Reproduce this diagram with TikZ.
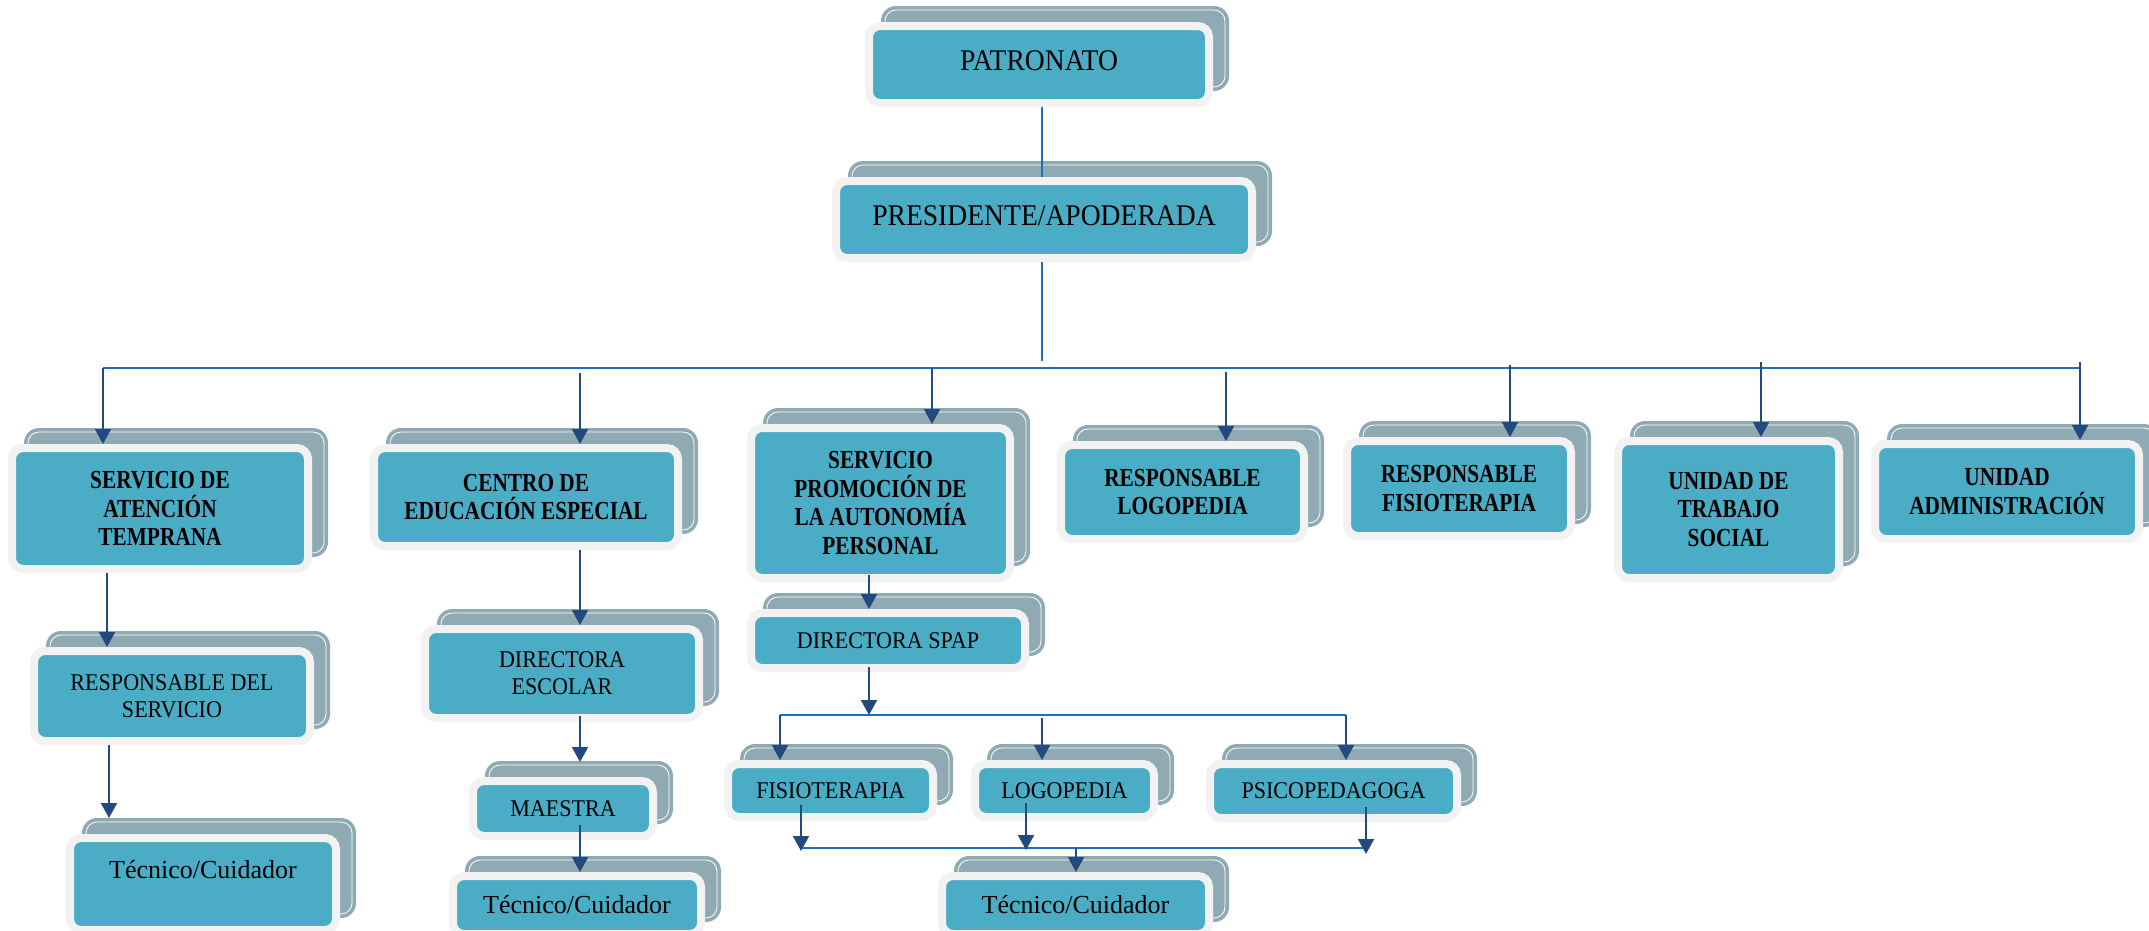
\documentclass[tikz,border=0pt]{standalone}
\usepackage{fontspec}
\setmainfont{Liberation Serif}
\newfontfamily\fregular[FakeStretch=0.92]{Liberation Serif}
\newfontfamily\fbolder[FakeStretch=0.82]{Liberation Serif}
\newfontfamily\ftec{Liberation Serif}
\usetikzlibrary{arrows.meta,calc,backgrounds}
\definecolor{boxblue}{HTML}{4BACC6}
\definecolor{boxrim}{HTML}{F2F2F2}
\definecolor{shadowc}{HTML}{8FAAB3}
\definecolor{busc}{HTML}{1A6FC0}
\definecolor{arrc}{HTML}{234A7E}
\tikzset{
  orgnode/.style={rounded corners=11pt, fill=boxblue, draw=boxrim, line width=8pt, inner sep=0pt, align=center, text=black},
  reg/.style={font=\fregular\fontsize{24}{27}\selectfont},
  big/.style={font=\fregular\fontsize{30}{36}\selectfont},
  bld/.style={font=\fbolder\bfseries\fontsize{26}{28.5}\selectfont},
  tec/.style={font=\ftec\fontsize{26}{30}\selectfont},
  arr/.style={draw=arrc, line width=2pt, -{Triangle[width=16pt,length=15pt]}},
  busline/.style={draw=busc, line width=2.2pt},
  plainline/.style={draw=busc, line width=1.8pt}
}
\newcommand\orgbox[7]{%
  \node[orgnode,#2,minimum width={#5-#3-8},minimum height={#6-#4-8}] (#1) at ({(#3+#5)/2},{(#4+#6)/2}) {#7};
  \begin{scope}[on background layer]
    \fill[shadowc,rounded corners=15pt] ($(#1.north west)+(16,-16)$) rectangle ($(#1.south east)+(16,-16)$);
    \draw[white,line width=0.8pt,rounded corners=11pt] ($(#1.north west)+(20,-12)$) rectangle ($(#1.south east)+(12,-20)$);
  \end{scope}}
\newcommand\liftup[2]{\raisebox{#1}[\height][\depth]{#2}}
\begin{document}
\begin{tikzpicture}[x=1pt,y=-1pt]
\useasboundingbox (0,0) rectangle (2149,930);
% boxes
\orgbox{pat}{big}{865}{22}{1213}{107}{\liftup{4pt}{PATRONATO}}
\orgbox{pres}{big}{832}{177}{1256}{262}{\liftup{4pt}{PRESIDENTE/APODERADA}}
\orgbox{sat}{bld}{8}{444}{312}{573}{SERVICIO DE\\ATENCIÓN\\TEMPRANA}
\orgbox{cee}{bld}{370}{444}{682}{550}{CENTRO DE\\EDUCACIÓN ESPECIAL}
\orgbox{spap}{bld}{747}{424}{1014}{582}{SERVICIO\\PROMOCIÓN DE\\LA AUTONOMÍA\\PERSONAL}
\orgbox{rlogo}{bld}{1057}{441}{1308}{543}{RESPONSABLE\\LOGOPEDIA}
\orgbox{rfisio}{bld}{1343}{437}{1575}{540}{RESPONSABLE\\FISIOTERAPIA}
\orgbox{uts}{bld}{1614}{437}{1843}{582}{UNIDAD DE\\TRABAJO\\SOCIAL}
\orgbox{uadm}{bld}{1871}{440}{2143}{543}{UNIDAD\\ADMINISTRACIÓN}
\orgbox{rds}{reg}{30}{647}{314}{745}{RESPONSABLE DEL\\SERVICIO}
\orgbox{de}{reg}{421}{625}{703}{722}{DIRECTORA\\ESCOLAR}
\orgbox{dspap}{reg}{747}{609}{1029}{672}{DIRECTORA SPAP}
\orgbox{mae}{reg}{469}{777}{657}{840}{MAESTRA}
\orgbox{fisio}{reg}{724}{760}{937}{821}{FISIOTERAPIA}
\orgbox{logo}{reg}{971}{760}{1158}{821}{LOGOPEDIA}
\orgbox{psico}{reg}{1206}{760}{1461}{822}{PSICOPEDAGOGA}
\orgbox{tecA}{tec}{66}{834}{340}{934}{\liftup{14pt}{Técnico/Cuidador}}
\orgbox{tecB}{tec}{449}{872}{705}{938}{Técnico/Cuidador}
\orgbox{tecC}{tec}{938}{872}{1213}{938}{Técnico/Cuidador}
% top connectors
\coordinate (xm) at (1042,0);
\coordinate (bm) at (1042,361);
\draw[plainline] (pat.south -| xm) -- (pres.north -| xm);
\draw[plainline] (pres.south -| xm) -- (bm);
\coordinate (b0) at (103,368);
\coordinate (b1) at (2080,368);
\draw[busline] (b0) -- (b1);
\coordinate (tb) at (580,373);
\coordinate (tc) at (932,368);
\coordinate (td) at (1226,372);
\coordinate (te) at (1510,365);
\coordinate (tf) at (1761,362);
\coordinate (tg) at (2080,362);
\draw[arr] (b0) -- (b0 |- sat.north);
\draw[arr] (tb) -- (tb |- cee.north);
\draw[arr] (tc) -- (tc |- spap.north);
\draw[arr] (td) -- (td |- rlogo.north);
\draw[arr] (te) -- (te |- rfisio.north);
\draw[arr] (tf) -- (tf |- uts.north);
\draw[arr] (tg) -- (tg |- uadm.north);
% left column
\coordinate (xa) at (107,0);
\coordinate (xb) at (109,0);
\draw[arr] (sat.south -| xa) -- (rds.north -| xa);
\draw[arr] (rds.south -| xb) -- ($(tecA.north -| xb)+(0,-16)$);
% second column
\coordinate (xc) at (580,0);
\draw[arr] (cee.south -| xc) -- (de.north -| xc);
\draw[arr] ($(de.south -| xc)+(0,-6)$) -- ($(mae.north -| xc)+(0,-15)$);
\draw[arr] ($(mae.south -| xc)+(0,-15)$) -- (tecB.north -| xc);
% SPAP branch
\coordinate (xd) at (869,0);
\draw[arr] ($(spap.south -| xd)+(0,-7)$) -- (dspap.north -| xd);
\coordinate (b2m) at (869,715);
\coordinate (b2l) at (780,715);
\coordinate (b2r) at (1346,715);
\coordinate (b2c) at (1042,718);
\draw[busline] (b2l) -- (b2r);
\draw[arr] ($(dspap.south -| xd)+(0,-5)$) -- (b2m);
\draw[arr] (b2l) -- (b2l |- fisio.north);
\draw[arr] (b2c) -- (b2c |- logo.north);
\draw[arr] (b2r) -- (b2r |- psico.north);
\coordinate (b3l) at (801,848);
\coordinate (b3r) at (1366,848);
\coordinate (b3m) at (1076,848);
\coordinate (xe) at (1026,0);
\draw[busline] (b3l) -- (b3r);
\draw[arr] ($(fisio.south -| b3l)+(0,-16)$) -- ($(b3l)+(0,3)$);
\draw[arr] ($(logo.south -| xe)+(0,-18)$) -- ($(b3l -| xe)+(0,2)$);
\draw[arr] ($(psico.south -| b3r)+(0,-15)$) -- ($(b3r)+(0,6)$);
\draw[arr] (b3m) -- (b3m |- tecC.north);
\end{tikzpicture}
\end{document}
